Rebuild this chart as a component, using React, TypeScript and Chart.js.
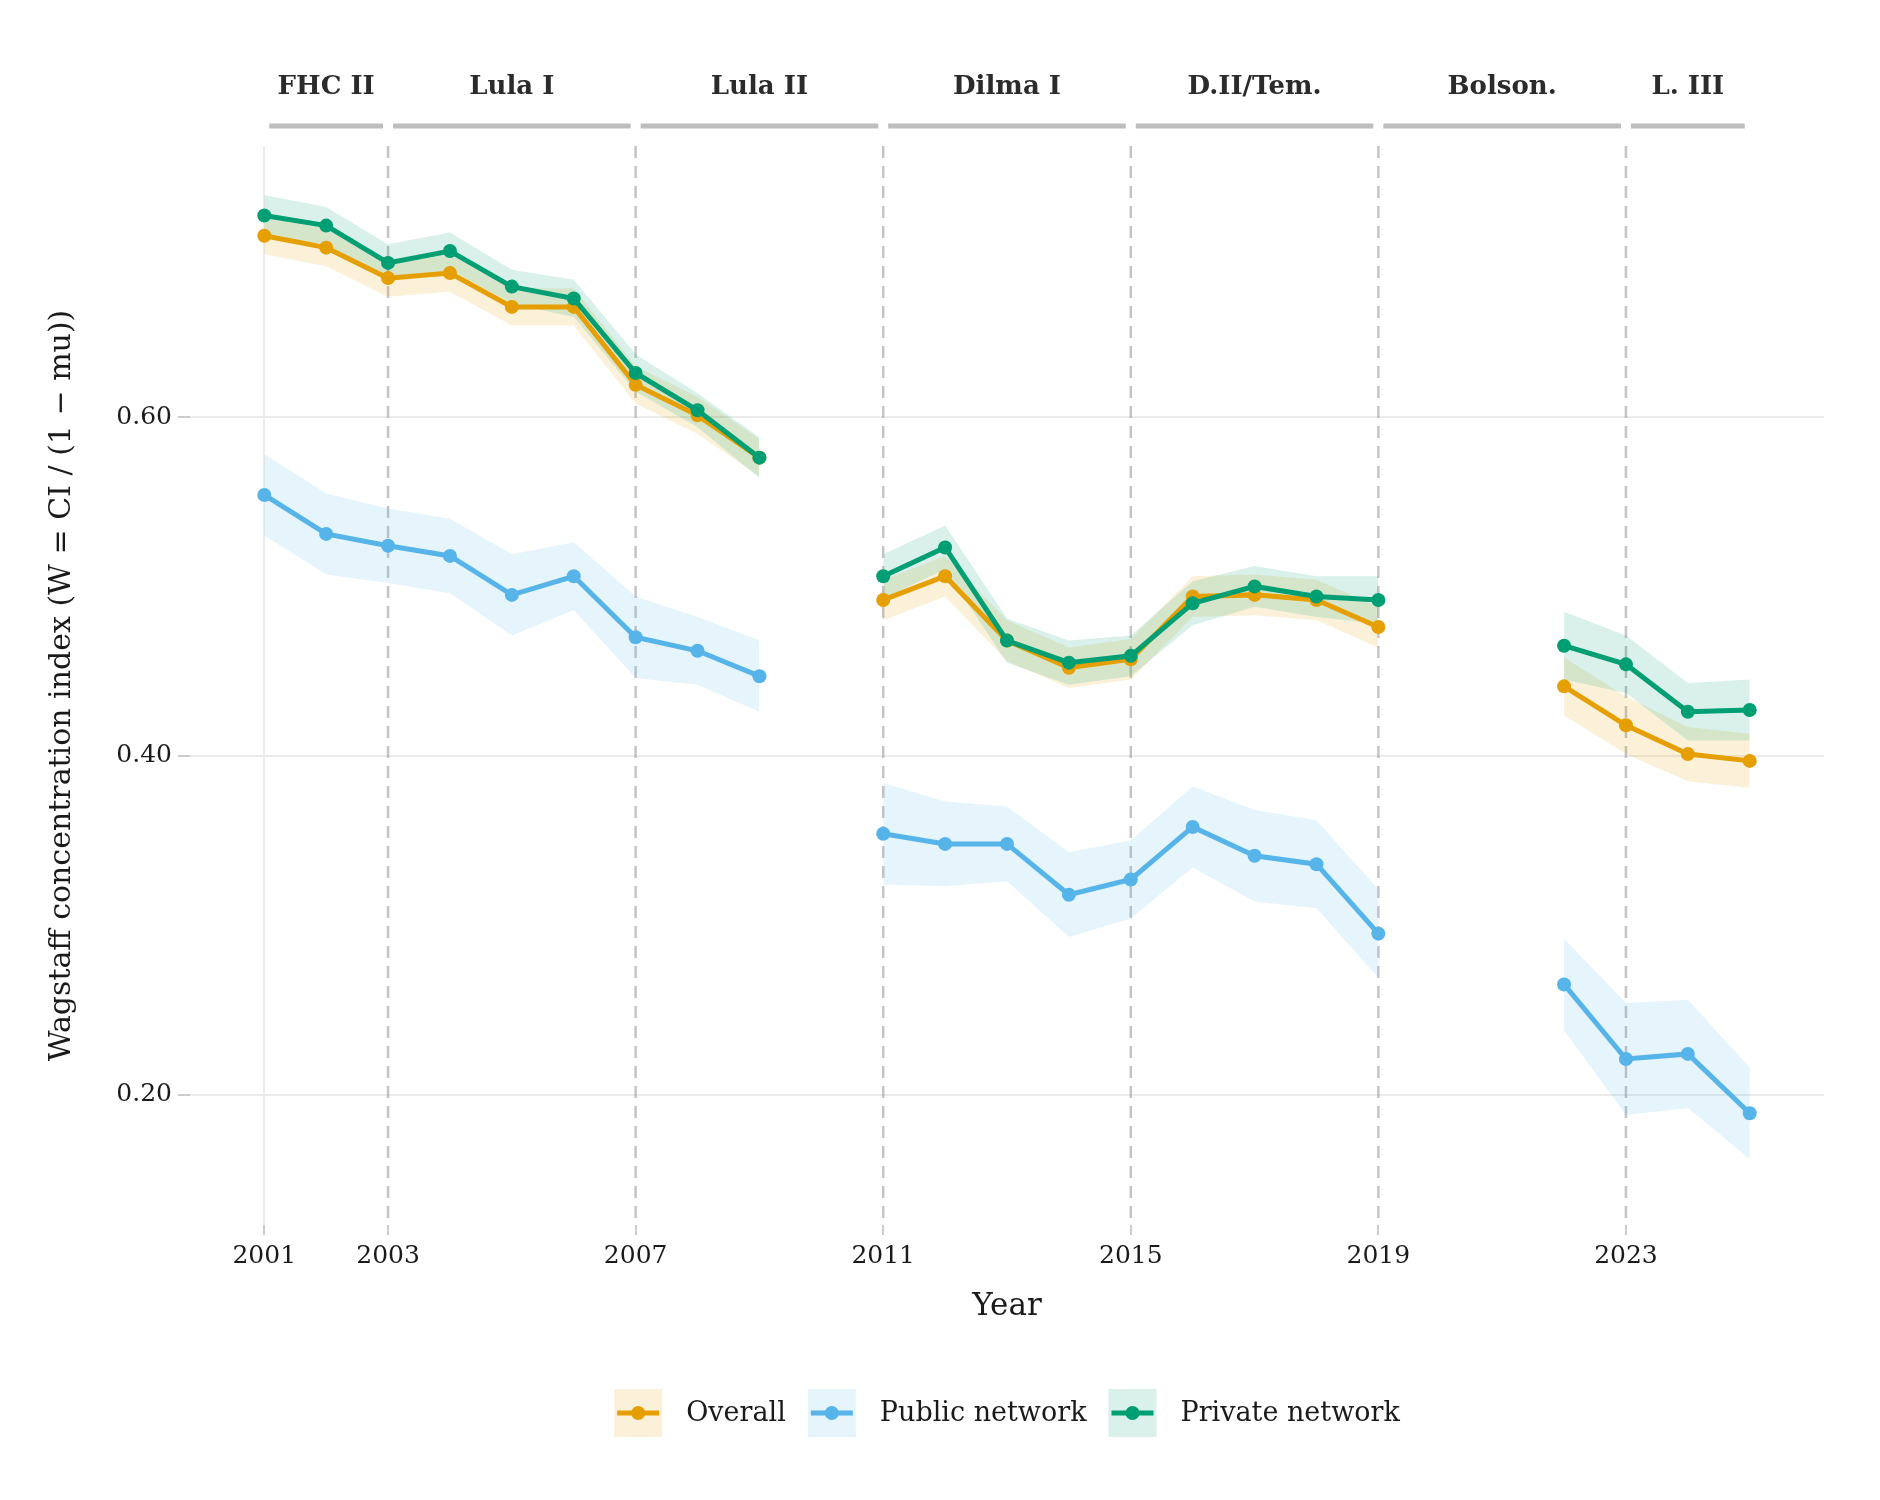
import React, { useEffect, useRef } from "react";
import { Chart, registerables } from "chart.js";
Chart.register(...registerables);

const years = [2001,2002,2003,2004,2005,2006,2007,2008,2009,2010,2011,2012,2013,2014,2015,2016,2017,2018,2019,2020,2021,2022,2023,2024,2025];
const overall = [0.707,0.700,0.682,0.685,0.665,0.665,0.619,0.601,0.576,null,0.492,0.506,0.468,0.452,0.457,0.494,0.495,0.492,0.476,null,null,0.441,0.418,0.401,0.397];
const publicNet = [0.554,0.531,0.524,0.518,0.495,0.506,0.470,0.462,0.447,null,0.354,0.348,0.348,0.318,0.327,0.358,0.341,0.336,0.295,null,null,0.265,0.221,0.224,0.189];
const privateNet = [0.719,0.713,0.691,0.698,0.677,0.670,0.626,0.604,0.576,null,0.506,0.523,0.468,0.455,0.459,0.490,0.500,0.494,0.492,null,null,0.465,0.454,0.426,0.427];
const overallCI = [0.011,0.011,0.011,0.011,0.011,0.011,0.011,0.011,0.011,null,0.012,0.012,0.012,0.012,0.012,0.012,0.012,0.012,0.012,null,null,0.017,0.017,0.016,0.016];
const publicCI = [0.024,0.024,0.022,0.022,0.024,0.020,0.024,0.020,0.021,null,0.030,0.025,0.022,0.025,0.023,0.024,0.027,0.026,0.026,null,null,0.027,0.033,0.032,0.027];
const privateCI = [0.012,0.011,0.011,0.011,0.010,0.011,0.011,0.010,0.012,null,0.013,0.013,0.013,0.013,0.012,0.013,0.012,0.012,0.014,null,null,0.020,0.017,0.017,0.018];
const xTicks = [2001,2003,2007,2011,2015,2019,2023];
const yTicks = [0.2,0.4,0.6];
const periods = [
  { label: "FHC II", start: 2001, end: 2003 },
  { label: "Lula I", start: 2003, end: 2007 },
  { label: "Lula II", start: 2007, end: 2011 },
  { label: "Dilma I", start: 2011, end: 2015 },
  { label: "D.II/Tem.", start: 2015, end: 2019 },
  { label: "Bolson.", start: 2019, end: 2023 },
  { label: "L. III", start: 2023, end: 2025 },
];
const boundaries = [2003,2007,2011,2015,2019,2023];
const seriesDefs = [
  { name: "Overall", values: overall, ci: overallCI, color: "#E69F00", band: "rgba(230,159,0,0.15)", order: 3 },
  { name: "Public network", values: publicNet, ci: publicCI, color: "#56B4E9", band: "rgba(86,180,233,0.15)", order: 2 },
  { name: "Private network", values: privateNet, ci: privateCI, color: "#009E73", band: "rgba(0,158,115,0.15)", order: 1 },
];
const FONT = "'DejaVu Serif', 'Liberation Serif', serif";

export default function App() {
  const ref = useRef<HTMLCanvasElement>(null);
  useEffect(() => {
    document.body.style.margin = "0";
    const pts = (arr: (number | null)[], f: (v: number, i: number) => number) =>
      years.map((x, i) => ({ x, y: arr[i] == null ? null : f(arr[i] as number, i) }));
    const datasets: any[] = [];
    seriesDefs.forEach((s) => {
      datasets.push({ label: s.name + "_hi", data: pts(s.values, (v, i) => v + (s.ci[i] as number)), borderWidth: 0, pointRadius: 0, fill: false, order: 10 + s.order, spanGaps: false });
      datasets.push({ label: s.name + "_lo", data: pts(s.values, (v, i) => v - (s.ci[i] as number)), borderWidth: 0, pointRadius: 0, fill: "-1", backgroundColor: s.band, order: 10 + s.order, spanGaps: false });
    });
    seriesDefs.forEach((s) => {
      datasets.push({ label: s.name, data: pts(s.values, (v) => v), borderColor: s.color, backgroundColor: s.color, borderWidth: 5, pointRadius: 7, pointBorderWidth: 0, pointBackgroundColor: s.color, fill: false, order: s.order, spanGaps: false });
    });

    const deco = {
      id: "deco",
      beforeDatasetsDraw(chart: any) {
        const { ctx, chartArea, scales } = chart;
        ctx.save();
        ctx.strokeStyle = "rgba(150,150,150,0.55)";
        ctx.lineWidth = 2.5;
        ctx.setLineDash([12, 8]);
        boundaries.forEach((b) => {
          const x = scales.x.getPixelForValue(b);
          ctx.beginPath(); ctx.moveTo(x, chartArea.top); ctx.lineTo(x, chartArea.bottom); ctx.stroke();
        });
        ctx.restore();
      },
      afterDraw(chart: any) {
        const { ctx, chartArea, scales } = chart;
        ctx.save();
        periods.forEach((p) => {
          const x1 = scales.x.getPixelForValue(p.start) + 5;
          const x2 = scales.x.getPixelForValue(p.end) - 5;
          ctx.strokeStyle = "#bdbdbd"; ctx.lineWidth = 5; ctx.setLineDash([]);
          ctx.beginPath(); ctx.moveTo(x1, 126); ctx.lineTo(x2, 126); ctx.stroke();
          ctx.fillStyle = "#2b2b2b"; ctx.font = "bold 26px " + FONT;
          ctx.textAlign = "center"; ctx.textBaseline = "middle";
          ctx.fillText(p.label, (x1 + x2) / 2, 87);
        });
        const cx = (chartArea.left + chartArea.right) / 2;
        ctx.fillStyle = "#1a1a1a"; ctx.font = "31px " + FONT; ctx.textAlign = "center"; ctx.textBaseline = "middle";
        ctx.fillText("Year", cx, 1307);
        ctx.font = "27px " + FONT;
        const box = 48, gap1 = 24, gap2 = 22;
        const widths = seriesDefs.map((s) => box + gap1 + ctx.measureText(s.name).width);
        const total = widths.reduce((a, b) => a + b, 0) + gap2 * (seriesDefs.length - 1);
        let x = cx - total / 2;
        const cy = 1413;
        seriesDefs.forEach((s, i) => {
          ctx.fillStyle = s.band; ctx.fillRect(x, cy - box / 2, box, box);
          ctx.strokeStyle = s.color; ctx.lineWidth = 5;
          ctx.beginPath(); ctx.moveTo(x + 3, cy); ctx.lineTo(x + box - 3, cy); ctx.stroke();
          ctx.fillStyle = s.color; ctx.beginPath(); ctx.arc(x + box / 2, cy, 7, 0, Math.PI * 2); ctx.fill();
          ctx.fillStyle = "#1a1a1a"; ctx.textAlign = "left"; ctx.textBaseline = "middle";
          ctx.fillText(s.name, x + box + gap1, cy + 1);
          x += widths[i] + gap2;
        });
        ctx.restore();
      },
    };

    const chart = new Chart(ref.current as HTMLCanvasElement, {
      type: "line",
      data: { datasets },
      plugins: [deco],
      options: {
        animation: false,
        responsive: false,
        layout: { padding: { left: 40, right: 56, top: 146, bottom: 0 } },
        plugins: { legend: { display: false }, tooltip: { enabled: false } },
        scales: {
          x: {
            type: "linear", min: 1999.8, max: 2026.2,
            afterBuildTicks: (ax: any) => { ax.ticks = xTicks.map((v) => ({ value: v })); },
            afterFit: (ax: any) => { ax.height = 275; },
            grid: { color: (c: any) => (c.tick && c.tick.value === 2001 ? "#ebebeb" : "rgba(0,0,0,0)"), lineWidth: 2, drawTicks: true, tickLength: 10, tickColor: "#cccccc" },
            border: { display: false },
            ticks: { color: "#1a1a1a", font: { family: FONT, size: 25 }, padding: 6, maxRotation: 0, callback: (v: any) => String(v) },
          },
          y: {
            min: 0.123, max: 0.76,
            afterBuildTicks: (ax: any) => { ax.ticks = yTicks.map((v) => ({ value: v })); },
            afterFit: (ax: any) => { ax.width = 150; },
            grid: { color: "#ebebeb", lineWidth: 2, tickLength: 12, tickColor: "#cccccc" },
            border: { display: false },
            ticks: { color: "#1a1a1a", font: { family: FONT, size: 25 }, padding: 6, callback: (v: any) => Number(v).toFixed(2) },
            title: { display: true, text: "Wagstaff concentration index (W = CI / (1 − mu))", color: "#1a1a1a", font: { family: FONT, size: 30 }, padding: { bottom: 8 } },
          },
        },
      },
    });
    return () => chart.destroy();
  }, []);
  return <canvas ref={ref} width={1880} height={1500} style={{ display: "block", width: 1880, height: 1500 }} />;
}
